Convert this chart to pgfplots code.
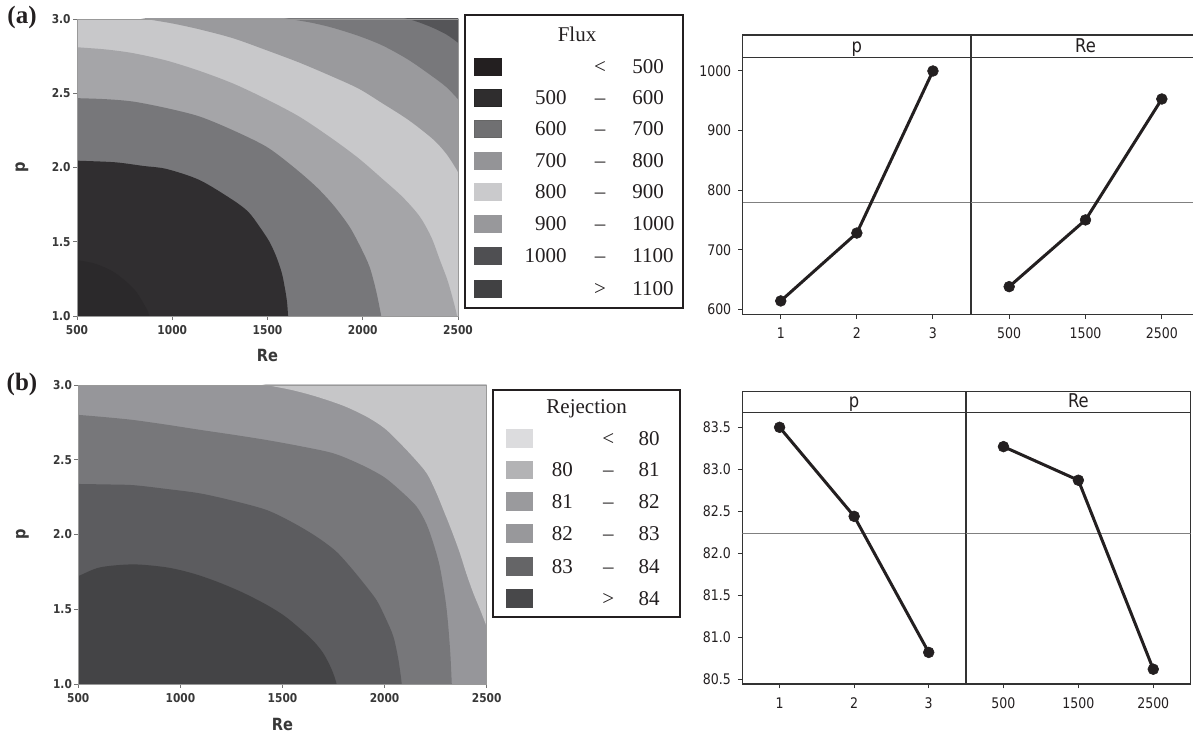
\documentclass[border=0pt]{standalone}
\usepackage{fontspec}
\setmainfont{Liberation Serif}
\newfontfamily\mef[FakeStretch=0.86]{DejaVu Sans}
\newfontfamily\ctf[FakeStretch=0.87]{DejaVu Sans}
\usepackage{pgfplots}
\pgfplotsset{compat=1.18}
% contour (a) colours
\definecolor{ca1}{HTML}{2B292B}
\definecolor{ca2}{HTML}{302E30}
\definecolor{ca3}{HTML}{77777A}
\definecolor{ca4}{HTML}{A5A5A8}
\definecolor{ca5}{HTML}{C8C8CA}
\definecolor{ca6}{HTML}{9A9A9D}
\definecolor{ca7}{HTML}{78787B}
\definecolor{ca8}{HTML}{555558}
% contour (b) colours
\definecolor{cb1}{HTML}{444446}
\definecolor{cb2}{HTML}{5C5C5F}
\definecolor{cb3}{HTML}{77777A}
\definecolor{cb4}{HTML}{96969A}
\definecolor{cb5}{HTML}{C6C6C8}
% legend (a)
\definecolor{la1}{HTML}{231F20}
\definecolor{la2}{HTML}{2F2D2E}
\definecolor{la3}{HTML}{707072}
\definecolor{la4}{HTML}{949497}
\definecolor{la5}{HTML}{CACACC}
\definecolor{la6}{HTML}{98989B}
\definecolor{la7}{HTML}{4F4F52}
\definecolor{la8}{HTML}{414143}
% legend (b)
\definecolor{lb1}{HTML}{DCDCDE}
\definecolor{lb2}{HTML}{B3B3B5}
\definecolor{lb3}{HTML}{9A9A9D}
\definecolor{lb4}{HTML}{98989B}
\definecolor{lb5}{HTML}{656567}
\definecolor{lb6}{HTML}{48484A}
\definecolor{txt}{HTML}{231F20}

\pgfplotsset{
  ctstyle/.style={
    scale only axis, anchor=south west,
    xmin=500, xmax=2500, ymin=1, ymax=3,
    xtick={500,1000,1500,2000,2500}, xticklabels={500,1000,1500,2000,2500},
    ytick={1,1.5,2,2.5,3}, yticklabels={1.0,1.5,2.0,2.5,3.0},
    tick align=outside, tick pos=left, major tick length=2pt,
    axis on top,
    axis line style={draw=black!40, line width=0.4pt},
    tick style={draw=black!55, line width=0.4pt},
    tick label style={font=\ctf\bfseries\fontsize{6.1}{6.5}\selectfont, text=black!78, inner sep=1pt},
    xticklabel style={yshift=-1.5pt},
    xlabel={Re}, ylabel={p},
    label style={font=\ctf\bfseries\fontsize{8.4}{9}\selectfont, text=black!78},
    xlabel style={at={(axis description cs:0.5,0)}, anchor=center, yshift=-20pt},
  },
  fl/.style={draw=none, smooth, tension=0.5, fill=#1},
  mestyle/.style={
    scale only axis, anchor=south west,
    xmin=0.5, xmax=3.5, xtick={1,2,3},
    tick align=outside, tick pos=left, major tick length=2.2pt,
    axis line style={draw=black!80, line width=0.55pt},
    tick style={draw=black!80, line width=0.5pt},
    tick label style={font=\mef\fontsize{7.3}{8}\selectfont, text=txt},
    xticklabel style={yshift=-1pt},
    clip mode=individual,
  },
  refl/.style={draw=black!50, line width=0.5pt},
  mel/.style={draw=txt, line width=1.5pt, mark=*, mark size=2.7pt, mark options={fill=txt, draw=txt, line width=0.3pt}},
}

\begin{document}
\begin{tikzpicture}
\path[use as bounding box] (0,0) rectangle (596.5pt,366pt);

% ================= (a) contour =================
\begin{axis}[ctstyle, at={(38.5pt,208pt)}, width=190.5pt, height=148.5pt,
  axis background/.style={fill=ca5},
  ylabel style={at={(axis description cs:0,0.5)}, anchor=center, yshift=27.5pt}]
\addplot[fl=ca6] coordinates {(700,3.04)(864,3.0)(1000,2.97)(1144,2.93)(1320,2.87)(1494,2.79)(1670,2.705)(1844,2.61)(1980,2.53)(2106,2.43)(2240,2.32)(2369,2.19)(2440,2.09)(2500,1.97)(2540,1.87)(2600,1.87)(2600,3.1)(700,3.1)};
\addplot[fl=ca7] coordinates {(1450,3.04)(1616,3.0)(1730,2.975)(1844,2.94)(1980,2.885)(2106,2.82)(2240,2.725)(2369,2.61)(2440,2.54)(2500,2.46)(2550,2.39)(2600,2.39)(2600,3.1)(1450,3.1)};
\addplot[fl=ca8] coordinates {(2100,3.04)(2238,3.0)(2300,2.975)(2369,2.94)(2440,2.895)(2500,2.84)(2550,2.79)(2600,2.79)(2600,3.1)(2100,3.1)};
\addplot[fl=ca4] coordinates {(440,2.82)(500,2.81)(650,2.795)(794,2.77)(970,2.72)(1144,2.65)(1320,2.565)(1494,2.46)(1670,2.34)(1844,2.19)(1980,2.06)(2106,1.92)(2210,1.80)(2299,1.67)(2360,1.53)(2404,1.38)(2445,1.24)(2474,1.11)(2495,1.0)(2505,0.9)(440,0.9)};
\addplot[fl=ca3] coordinates {(440,2.47)(500,2.467)(650,2.46)(794,2.444)(970,2.40)(1144,2.343)(1320,2.25)(1494,2.14)(1630,2.01)(1756,1.87)(1850,1.74)(1931,1.60)(1990,1.46)(2036,1.33)(2070,1.17)(2097,1.0)(2110,0.9)(440,0.9)};
\addplot[fl=ca2] coordinates {(440,2.05)(500,2.046)(700,2.035)(850,2.01)(970,1.99)(1144,1.915)(1319,1.78)(1400,1.70)(1459,1.60)(1510,1.50)(1546,1.40)(1575,1.29)(1590,1.196)(1602,1.10)(1608,1.0)(1612,0.9)(440,0.9)};
\addplot[fl=ca1] coordinates {(450,1.38)(500,1.376)(600,1.35)(700,1.29)(800,1.18)(860,1.06)(880,1.0)(890,0.9)(450,0.9)};
\end{axis}

% ================= (b) contour =================
\begin{axis}[ctstyle, at={(39.15pt,24pt)}, width=204.2pt, height=149.5pt,
  axis background/.style={fill=cb4},
  ylabel style={at={(axis description cs:0,0.5)}, anchor=center, yshift=28pt}]
\addplot[fl=cb5] coordinates {(1250,3.05)(1422,3.0)(1550,2.965)(1667,2.922)(1800,2.86)(1912,2.788)(2000,2.71)(2076,2.61)(2145,2.51)(2206,2.41)(2250,2.29)(2288,2.164)(2330,2.02)(2369,1.874)(2400,1.74)(2435,1.606)(2470,1.49)(2500,1.384)(2530,1.28)(2600,1.28)(2600,3.1)(1250,3.1)};
\addplot[fl=cb3] coordinates {(440,2.805)(500,2.80)(630,2.785)(769,2.766)(930,2.735)(1096,2.70)(1260,2.667)(1422,2.632)(1590,2.59)(1749,2.543)(1880,2.47)(1994,2.387)(2080,2.29)(2157,2.186)(2205,2.07)(2239,1.94)(2268,1.80)(2288,1.65)(2302,1.52)(2312,1.384)(2322,1.2)(2329,1.0)(2332,0.9)(440,0.9)};
\addplot[fl=cb2] coordinates {(440,2.34)(500,2.338)(630,2.335)(769,2.33)(930,2.305)(1096,2.275)(1260,2.225)(1422,2.164)(1550,2.08)(1667,1.985)(1760,1.89)(1831,1.785)(1900,1.67)(1961,1.56)(2005,1.44)(2043,1.317)(2068,1.16)(2084,1.0)(2090,0.9)(440,0.9)};
\addplot[fl=cb1] coordinates {(440,1.70)(500,1.722)(606,1.78)(769,1.80)(933,1.78)(1060,1.74)(1178,1.685)(1300,1.615)(1422,1.53)(1510,1.455)(1586,1.37)(1650,1.29)(1700,1.205)(1740,1.10)(1765,1.0)(1775,0.9)(440,0.9)};
\end{axis}

% panel letters
\node[font=\bfseries\fontsize{12.5}{13}\selectfont, text=txt] at (11pt,357pt) {(a)};
\node[font=\bfseries\fontsize{12.5}{13}\selectfont, text=txt] at (11pt,174pt) {(b)};

% ================= legend (a) =================
\begin{scope}[font=\fontsize{10.5}{12}\selectfont, text=txt]
\draw[line width=0.9pt, draw=txt, fill=white] (232.5pt,212pt) rectangle (341.5pt,358.5pt);
\node[anchor=base] at (288.5pt,345.2pt) {Flux};
\foreach \yy/\cc/\aa/\ss/\bb in {332.5/la1//{<}/500, 317/la2/500/--/600, 301.5/la3/600/--/700, 285.5/la4/700/--/800, 270/la5/800/--/900, 254/la6/900/--/1000, 238/la7/1000/--/1100, 221.5/la8//{>}/1100}{
  \fill[\cc] (237pt,\yy pt-4.5pt) rectangle (251pt,\yy pt+4.5pt);
  \node[anchor=base east, inner sep=0pt] at (283.5pt,\yy pt-3.4pt) {\aa};
  \node[anchor=base, inner sep=0pt] at (300pt,\yy pt-3.4pt) {\ss};
  \node[anchor=base west, inner sep=0pt] at (316pt,\yy pt-3.4pt) {\bb};
}
\draw[black!85, line width=0.6pt] (237.3pt,312.8pt) rectangle (250.7pt,321.2pt);
\draw[black!60, line width=0.6pt] (237.3pt,297.3pt) rectangle (250.7pt,305.7pt);
\end{scope}

% ================= legend (b) =================
\begin{scope}[font=\fontsize{10.5}{12}\selectfont, text=txt]
\draw[line width=0.9pt, draw=txt, fill=white] (246.65pt,57.35pt) rectangle (340pt,171pt);
\node[anchor=base] at (293.35pt,159.35pt) {Rejection};
\foreach \yy/\cc/\aa/\ss/\bb in {146.85/lb1//{<}/80, 131/lb2/80/--/81, 115.15/lb3/81/--/82, 99.35/lb4/82/--/83, 82.65/lb5/83/--/84, 66.85/lb6//{>}/84}{
  \fill[\cc] (253pt,\yy pt-4.7pt) rectangle (266.65pt,\yy pt+4.7pt);
  \node[anchor=base east, inner sep=0pt] at (286.65pt,\yy pt-3.4pt) {\aa};
  \node[anchor=base, inner sep=0pt] at (304.15pt,\yy pt-3.4pt) {\ss};
  \node[anchor=base west, inner sep=0pt] at (319.15pt,\yy pt-3.4pt) {\bb};
}
\end{scope}

% ================= (a) main effects =================
\begin{axis}[mestyle, at={(371.35pt,208.85pt)}, width=114.15pt, height=128.5pt,
  ymin=591.6, ymax=1023, ytick={600,700,800,900,1000}, yticklabels={600,700,800,900,1000},
  xticklabels={1,2,3}]
\addplot[refl] coordinates {(0.5,780)(3.5,780)};
\addplot[mel] coordinates {(1,614)(2,728)(3,1000)};
\draw[black!80, line width=0.55pt] (axis description cs:0,1) rectangle (axis description cs:1,1.0868);
\node[anchor=base, font=\mef\fontsize{9.5}{10}\selectfont, text=txt, inner sep=0pt] at (axis description cs:0.5,1) [yshift=2.4pt] {p};
\end{axis}
\begin{axis}[mestyle, at={(485.5pt,208.85pt)}, width=114.5pt, height=128.5pt,
  ymin=591.6, ymax=1023, ytick=\empty,
  xticklabels={500,1500,2500}]
\addplot[refl] coordinates {(0.5,780)(3.5,780)};
\addplot[mel] coordinates {(1,638)(2,750)(3,953)};
\draw[black!80, line width=0.55pt] (axis description cs:0,1) rectangle (axis description cs:1,1.0868);
\node[anchor=base, font=\mef\fontsize{9.5}{10}\selectfont, text=txt, inner sep=0pt] at (axis description cs:0.5,1) [yshift=2.4pt] {Re};
\end{axis}

% ================= (b) main effects =================
\begin{axis}[mestyle, at={(371.15pt,24pt)}, width=111.85pt, height=135.65pt,
  ymin=80.444, ymax=83.674, ytick={80.5,81,81.5,82,82.5,83,83.5},
  yticklabels={80.5,81.0,81.5,82.0,82.5,83.0,83.5},
  xticklabels={1,2,3}]
\addplot[refl] coordinates {(0.5,82.24)(3.5,82.24)};
\addplot[mel] coordinates {(1,83.50)(2,82.44)(3,80.82)};
\draw[black!80, line width=0.55pt] (axis description cs:0,1) rectangle (axis description cs:1,1.0774);
\node[anchor=base, font=\mef\fontsize{9.5}{10}\selectfont, text=txt, inner sep=0pt] at (axis description cs:0.5,1) [yshift=2.7pt] {p};
\end{axis}
\begin{axis}[mestyle, at={(483pt,24pt)}, width=112.35pt, height=135.65pt,
  ymin=80.444, ymax=83.674, ytick=\empty,
  xticklabels={500,1500,2500}]
\addplot[refl] coordinates {(0.5,82.24)(3.5,82.24)};
\addplot[mel] coordinates {(1,83.27)(2,82.87)(3,80.62)};
\draw[black!80, line width=0.55pt] (axis description cs:0,1) rectangle (axis description cs:1,1.0774);
\node[anchor=base, font=\mef\fontsize{9.5}{10}\selectfont, text=txt, inner sep=0pt] at (axis description cs:0.5,1) [yshift=2.7pt] {Re};
\end{axis}
\end{tikzpicture}
\end{document}
